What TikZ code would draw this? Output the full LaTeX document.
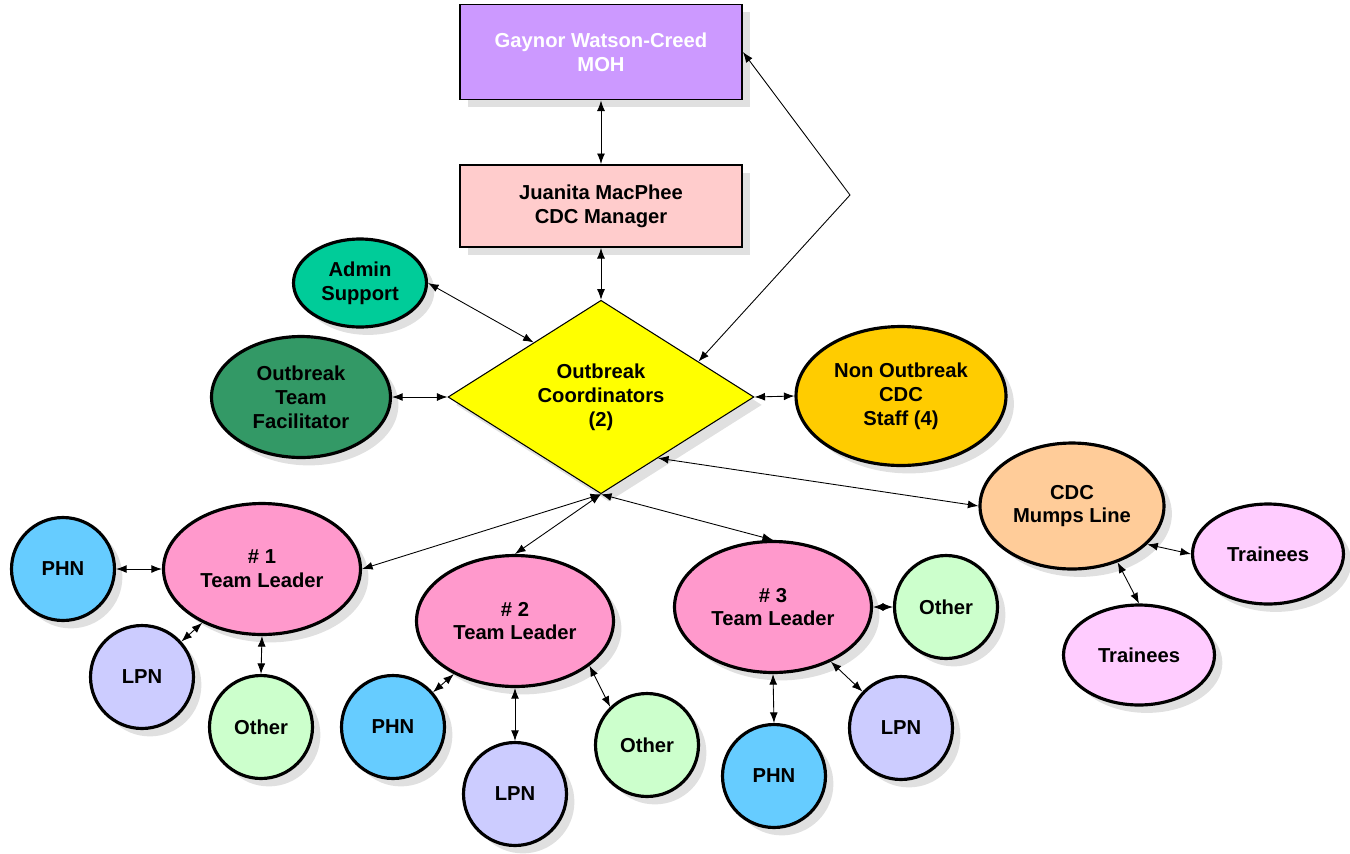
\documentclass[tikz,border=0pt]{standalone}
\usepackage{fontspec}
\setmainfont{Liberation Sans}
\usetikzlibrary{shapes.geometric,shadows,arrows.meta}
\tikzset{>={Latex[length=6pt,width=4.5pt]}}
\definecolor{moh}{HTML}{CC99FF}
\definecolor{mgr}{HTML}{FFCCCC}
\definecolor{coord}{HTML}{FFFF00}
\definecolor{admin}{HTML}{00CC99}
\definecolor{facil}{HTML}{339966}
\definecolor{staff}{HTML}{FFCC00}
\definecolor{mumps}{HTML}{FFCC99}
\definecolor{trainee}{HTML}{FFCCFF}
\definecolor{leader}{HTML}{FF99CC}
\definecolor{phn}{HTML}{66CCFF}
\definecolor{lpn}{HTML}{CCCCFF}
\definecolor{other}{HTML}{CCFFCC}
\tikzset{
  base/.style = {
    draw, align=center, inner sep=0pt,
    font=\bfseries\fontsize{11.5}{13.6}\selectfont,
    drop shadow={shadow xshift=4.5pt,shadow yshift=-4.5pt,fill=black!12,opacity=1}
  },
  box/.style  = {base, rectangle, line width=1.1pt, minimum width=5.64cm},
  blob/.style = {base, ellipse, line width=1.8pt},
  ring/.style = {base, circle, line width=1.8pt, minimum size=2.06cm},
  link/.style = {<->, line width=0.5pt}
}

\begin{document}
\begin{tikzpicture}[x=0.02cm,y=-0.02cm]
  \useasboundingbox (0,0) rectangle (1350,853);
  % top of the chain
  \node[box,fill=moh,text=white,minimum height=1.9cm] (moh) at (601,52) {Gaynor Watson-Creed\\MOH};
  \node[box,fill=mgr,minimum height=1.64cm] (mgr) at (601,206) {Juanita MacPhee\\CDC Manager};
  \node[base,diamond,fill=coord,line width=0.6pt,minimum width=6.12cm,minimum height=3.66cm] (dia) at (601,397) {Outbreak\\Coordinators\\(2)};
  \node[blob,fill=admin,minimum width=2.66cm,minimum height=1.76cm] (admin) at (360,283) {Admin\\Support};
  \node[blob,fill=facil,minimum width=3.58cm,minimum height=2.42cm] (facil) at (301,397) {Outbreak\\Team\\Facilitator};
  \node[blob,fill=staff,minimum width=4.2cm,minimum height=2.78cm] (staff) at (901,396) {Non Outbreak\\CDC\\Staff (4)};
  % mumps line
  \node[blob,fill=mumps,minimum width=3.68cm,minimum height=2.52cm] (mumps) at (1072,506) {CDC\\Mumps Line};
  \node[blob,fill=trainee,minimum width=3.02cm,minimum height=2.0cm] (trR) at (1268,554) {Trainees};
  \node[blob,fill=trainee,minimum width=3.02cm,minimum height=2.0cm] (trB) at (1139,655) {Trainees};
  % teams
  \node[blob,fill=leader,minimum width=3.94cm,minimum height=2.62cm] (tl1) at (262,569) {\# 1\\Team Leader};
  \node[blob,fill=leader,minimum width=3.94cm,minimum height=2.62cm] (tl2) at (515,621) {\# 2\\Team Leader};
  \node[blob,fill=leader,minimum width=3.94cm,minimum height=2.62cm] (tl3) at (773,607) {\# 3\\Team Leader};
  \node[ring,fill=phn] (phn1) at (63,569) {PHN};
  \node[ring,fill=lpn] (lpn1) at (142,677) {LPN};
  \node[ring,fill=other] (oth1) at (261,727) {Other};
  \node[ring,fill=phn] (phn2) at (393,727) {PHN};
  \node[ring,fill=lpn] (lpn2) at (515,794) {LPN};
  \node[ring,fill=other] (oth2) at (647,745) {Other};
  \node[ring,fill=other] (oth3) at (946,607) {Other};
  \node[ring,fill=lpn] (lpn3) at (901,728) {LPN};
  \node[ring,fill=phn] (phn3) at (774,776) {PHN};
  \coordinate (bend) at (850,195);
  % connectors
  \draw[link] (moh.south) -- (mgr.north);
  \draw[link] (mgr.south) -- (dia.north);
  \draw[link] (dia.20) -- (bend) -- (moh.east);
  \draw[link] (admin.east) -- (dia.141);
  \draw[link] (facil.east) -- (dia.west);
  \draw[link] (dia.east) -- (staff.west);
  \draw[link] (dia.-47) -- (mumps.west);
  \draw[link] (mumps.-27) -- (trR.west);
  \draw[link] (mumps.-51) -- (trB.north);
  \draw[link] (dia.south) -- (tl1.east);
  \draw[link] (dia.south) -- (tl2.north);
  \draw[link] (dia.south) -- (tl3.north);
  \draw[link] (tl1.west) -- (phn1.east);
  \draw[link] (tl1) -- (lpn1);
  \draw[link] (tl1.south) -- (oth1.north);
  \draw[link] (tl2) -- (phn2);
  \draw[link] (tl2.south) -- (lpn2.north);
  \draw[link] (tl2.-31) -- (oth2.134);
  \draw[link] (tl3.east) -- (oth3.west);
  \draw[link] (tl3) -- (lpn3);
  \draw[link] (tl3.south) -- (phn3.north);
\end{tikzpicture}
\end{document}
